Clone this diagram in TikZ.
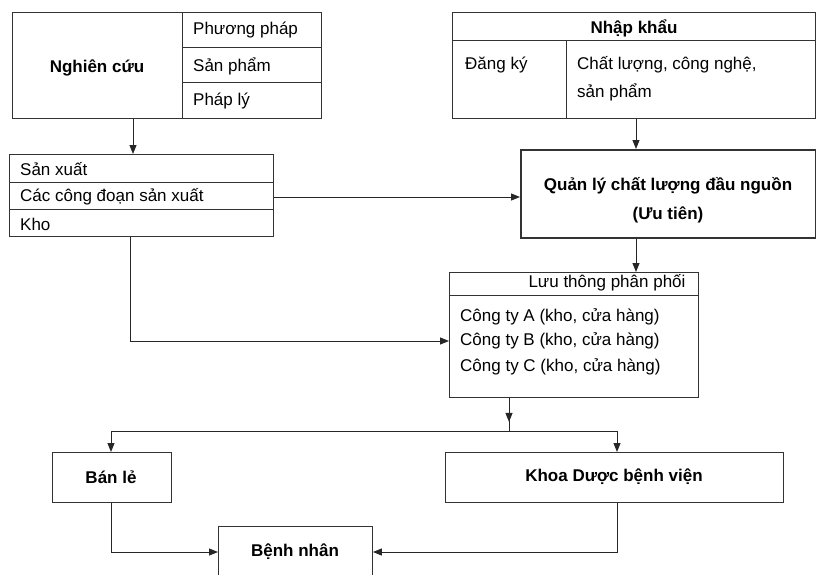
\documentclass[tikz,border=0pt]{standalone}
\usepackage{fontspec}
\setmainfont{Liberation Sans}
\usetikzlibrary{arrows.meta}
\begin{document}
\begin{tikzpicture}[x=1pt,y=-1pt,
  box/.style={draw=black!80, line width=0.9pt, rectangle, anchor=north west, inner sep=0pt},
  thickbox/.style={box, line width=1.6pt},
  sep/.style={draw=black!80, line width=0.9pt},
  lbl/.style={font=\fontsize{17}{20}\selectfont, inner sep=0pt, anchor=west, text=black},
  blbl/.style={font=\fontsize{17}{20}\selectfont\bfseries, inner sep=0pt, text=black},
  conn/.style={draw=black!85, line width=1pt},
  arr/.style={conn, -{Triangle[length=9pt,width=7pt]}}
]
\useasboundingbox (0,0) rectangle (816,575);
\clip (0,0) rectangle (816,575);
\fill[white] (0,0) rectangle (816,575);

% Nghien cuu
\node[box, minimum width=309pt, minimum height=106pt] (nc) at (12,12) {};
\draw[sep] (182,12) -- (182,118);
\draw[sep] (182,47) -- (321,47);
\draw[sep] (182,82) -- (321,82);
\node[blbl] (nct) at (97,68) {Nghiên cứu};
\node[lbl] (nc1) at (193,30) {Phương pháp};
\node[lbl] (nc2) at (193,66) {Sản phẩm};
\node[lbl] (nc3) at (193,101) {Pháp lý};

% San xuat
\node[box, minimum width=264pt, minimum height=82pt] (sx) at (9,154) {};
\draw[sep] (9,182) -- (273,182);
\draw[sep] (9,209) -- (273,209);
\node[lbl] (sx1) at (20,169) {Sản xuất};
\node[lbl] (sx2) at (20,197) {Các công đoạn sản xuất};
\node[lbl] (sx3) at (20,224) {Kho};

% Nhap khau
\node[box, minimum width=363pt, minimum height=106pt] (nk) at (452,12) {};
\draw[sep] (452,40) -- (815,40);
\draw[sep] (566,40) -- (566,118);
\node[blbl] (nkt) at (634,28) {Nhập khẩu};
\node[lbl] (nk1) at (465,65) {Đăng ký};
\node[lbl] (nk2) at (577,65) {Chất lượng, công nghệ,};
\node[lbl] (nk3) at (577,92) {sản phẩm};

% Quan ly
\node[thickbox, minimum width=295pt, minimum height=88pt] (ql) at (520,149) {};
\node[blbl] (ql1) at (668,186) {Quản lý chất lượng đầu nguồn};
\node[blbl] (ql2) at (668,215) {(Ưu tiên)};

% Luu thong
\node[box, minimum width=249pt, minimum height=125pt] (lt) at (449,272) {};
\draw[sep] (449,295) -- (698,295);
\node[font=\fontsize{17}{20}\selectfont, inner sep=0pt] (ltt) at (607,283) {Lưu thông phân phối};
\node[lbl] (lt1) at (460,317) {Công ty A (kho, cửa hàng)};
\node[lbl] (lt2) at (460,341) {Công ty B (kho, cửa hàng)};
\node[lbl] (lt3) at (460,367) {Công ty C (kho, cửa hàng)};

% Bottom boxes
\node[box, minimum width=119pt, minimum height=50pt] (bl) at (52,452) {};
\node[blbl] (blt) at (111,477) {Bán lẻ};
\node[box, minimum width=338pt, minimum height=50pt] (kd) at (445,452) {};
\node[blbl] (kdt) at (614,477) {Khoa Dược bệnh viện};
\node[box, minimum width=154pt, minimum height=70pt] (bn) at (218,526) {};
\node[blbl] (bnt) at (295,552) {Bệnh nhân};

% coordinates
\coordinate (xa) at (133,0);
\coordinate (xb) at (636,0);
\coordinate (xc) at (130,0);
\coordinate (xd) at (509,0);
\coordinate (jl) at (111,431);
\coordinate (jr) at (617,431);

% connectors
\draw[arr] (nc.south -| xa) -- (sx.north -| xa);
\draw[arr] (nk.south -| xb) -- (ql.north -| xb);
\draw[arr] (sx.east |- sx2) -- (ql.west |- sx2);
\draw[arr] (ql.south -| xb) -- (lt.north -| xb);
\draw[arr] (sx.south -| xc) -- (xc |- lt2) -- (lt.west |- lt2);
\draw[conn] (lt.south -| xd) -- (xd |- jl);
\draw[arr] (lt.south -| xd) -- ++(0,24);
\draw[conn] (jl) -- (jr);
\draw[arr] (jl) -- (bl.north -| jl);
\draw[arr] (jr) -- (kd.north -| jr);
\draw[arr] (bl.south -| jl) -- (jl |- bnt) -- (bn.west |- bnt);
\draw[arr] (kd.south -| jr) -- (jr |- bnt) -- (bn.east |- bnt);
\end{tikzpicture}
\end{document}
